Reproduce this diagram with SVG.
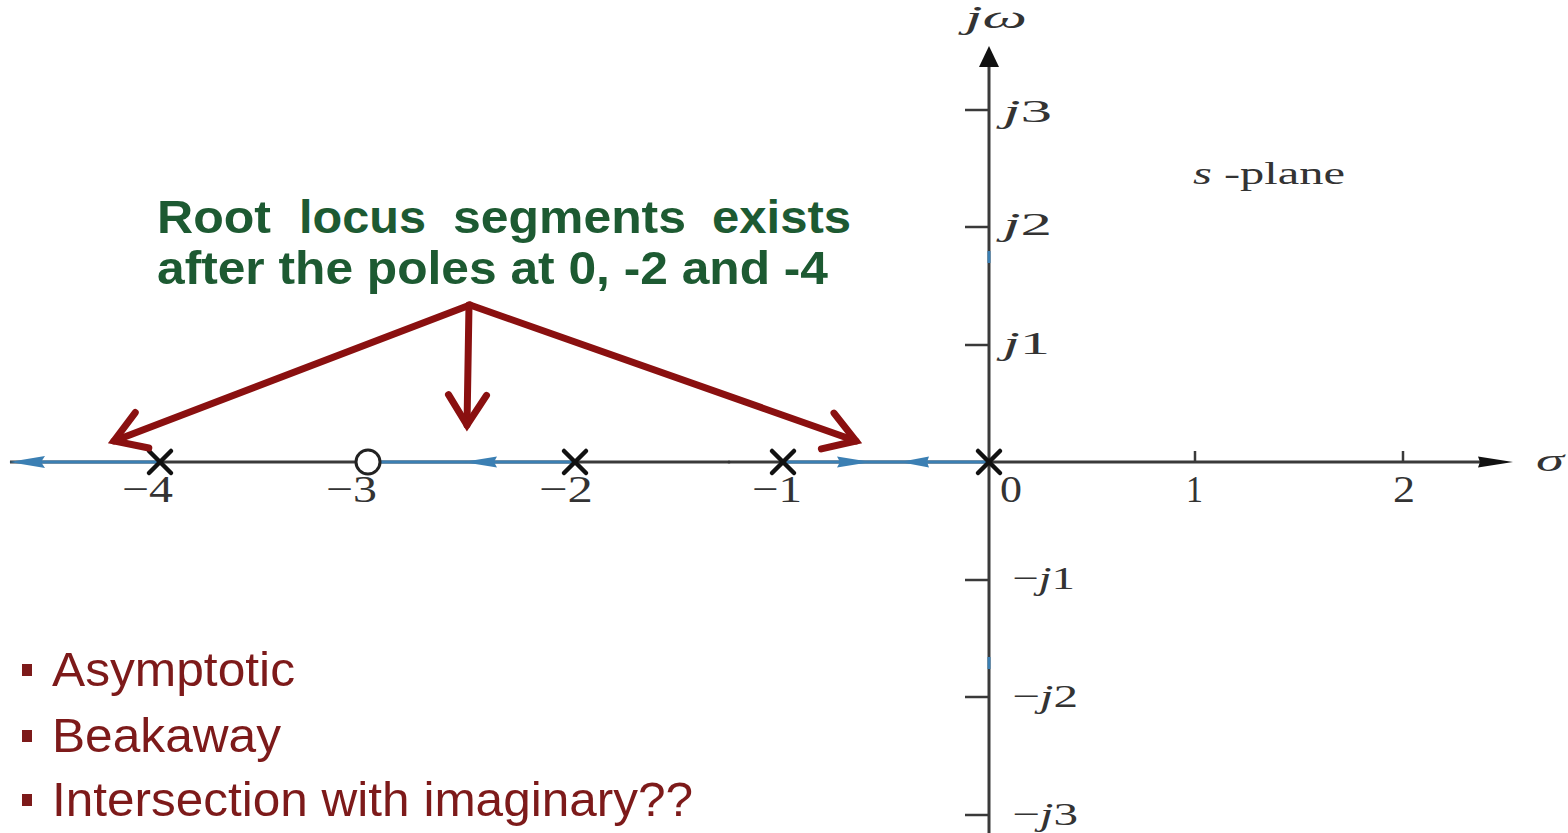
<svg xmlns="http://www.w3.org/2000/svg" width="1568" height="833" viewBox="0 0 1568 833">
<style>
.axis{stroke:#3a3a3a;stroke-width:3;fill:none}
.tick{stroke:#3a3a3a;stroke-width:2.5}
.blue{stroke:#3b7fb3;stroke-width:3;fill:none}
.bluefill{fill:#3b7fb3}
.pole{stroke:#111;stroke-width:4.5;stroke-linecap:round}
.num{font-family:"Liberation Serif",serif;font-size:38px;fill:#333}
.jl{font-family:"Liberation Serif",serif;font-size:32px;fill:#333}
.it{font-style:italic}
.green{font-family:"Liberation Sans",Arial,sans-serif;font-weight:bold;font-size:47px;fill:#1d5a32}
.bul{font-family:"Liberation Sans",Arial,sans-serif;font-size:48px;fill:#7d1a1a}
.red{stroke:#8a1010;stroke-width:7;fill:none;stroke-linecap:round}
</style>
<defs>
<marker id="chev" markerUnits="userSpaceOnUse" markerWidth="80" markerHeight="80" refX="0" refY="0" viewBox="-40 -40 80 80" orient="auto">
<path d="M -30,-19 L 0,0 L -30,19" fill="none" stroke="#8a1010" stroke-width="7" stroke-linecap="round" stroke-linejoin="miter"/>
</marker>
</defs>
<rect width="1568" height="833" fill="#ffffff"/>

<g id="axes">
<line class="axis" x1="10" y1="462" x2="1482" y2="462"/>
<polygon points="1513,462 1478,456.5 1480,462 1478,467.5" fill="#111"/>
<line class="axis" x1="989" y1="833" x2="989" y2="64"/>
<polygon points="989,46 979,67 999,67" fill="#111"/>
<line class="tick" x1="965" y1="110" x2="989" y2="110"/>
<line class="tick" x1="965" y1="227" x2="989" y2="227"/>
<line class="tick" x1="965" y1="345" x2="989" y2="345"/>
<line class="tick" x1="965" y1="580" x2="989" y2="580"/>
<line class="tick" x1="965" y1="697" x2="989" y2="697"/>
<line class="tick" x1="965" y1="815" x2="989" y2="815"/>
<line class="tick" x1="1195" y1="451" x2="1195" y2="462"/>
<line class="tick" x1="1403" y1="451" x2="1403" y2="462"/>
<text class="jl it" x="965" y="28" font-size="34" textLength="62" lengthAdjust="spacingAndGlyphs">jω</text>
<text class="jl" x="1536" y="471" font-size="40" font-style="italic" textLength="28" lengthAdjust="spacingAndGlyphs">σ</text>
<text class="jl" x="1003" y="122" font-size="34" textLength="49" lengthAdjust="spacingAndGlyphs"><tspan class="it">j</tspan>3</text>
<text class="jl" x="1003" y="235" font-size="34" textLength="49" lengthAdjust="spacingAndGlyphs"><tspan class="it">j</tspan>2</text>
<text class="jl" x="1003" y="354" font-size="34" textLength="47" lengthAdjust="spacingAndGlyphs"><tspan class="it">j</tspan>1</text>
<text class="jl" x="1012" y="589" textLength="63" lengthAdjust="spacingAndGlyphs">−<tspan class="it">j</tspan>1</text>
<text class="jl" x="1012" y="707" textLength="66" lengthAdjust="spacingAndGlyphs">−<tspan class="it">j</tspan>2</text>
<text class="jl" x="1012" y="825" textLength="66" lengthAdjust="spacingAndGlyphs">−<tspan class="it">j</tspan>3</text>
<text class="num" x="122" y="502" textLength="51" lengthAdjust="spacingAndGlyphs">−4</text>
<text class="num" x="326" y="502" textLength="51" lengthAdjust="spacingAndGlyphs">−3</text>
<text class="num" x="539" y="502" textLength="54" lengthAdjust="spacingAndGlyphs">−2</text>
<text class="num" x="752" y="502" textLength="50" lengthAdjust="spacingAndGlyphs">−1</text>
<text class="num" x="1000" y="502" textLength="22" lengthAdjust="spacingAndGlyphs">0</text>
<text class="num" x="1186" y="502" textLength="17" lengthAdjust="spacingAndGlyphs">1</text>
<text class="num" x="1393" y="502" textLength="22" lengthAdjust="spacingAndGlyphs">2</text>
<text class="jl" x="1193" y="184" font-size="30" textLength="152" lengthAdjust="spacingAndGlyphs"><tspan class="it">s</tspan> -plane</text>
</g>

<g id="locus">
<line class="blue" x1="40" y1="462" x2="160" y2="462"/>
<polygon class="bluefill" points="9,462 45,456 41,462 45,468"/>
<line class="blue" x1="380" y1="462" x2="575" y2="462"/>
<polygon class="bluefill" points="463,462 497,456.5 494,462 497,467.5"/>
<line class="blue" x1="783" y1="462" x2="989" y2="462"/>
<polygon class="bluefill" points="871,462 837,456.5 840,462 837,467.5"/>
<polygon class="bluefill" points="900,462 929,456.5 927,462 929,467.5"/>
<line class="blue" x1="989" y1="251" x2="989" y2="263"/>
<line class="blue" x1="989" y1="657" x2="989" y2="669"/>
<circle cx="729" cy="462" r="1.5" fill="#333"/>
</g>

<g id="pole-m4"><path class="pole" d="M149,451 L171,473 M171,451 L149,473"/></g>
<g id="zero-m3"><circle cx="368" cy="462" r="12" fill="#fff" stroke="#222" stroke-width="3"/></g>
<g id="pole-m2"><path class="pole" d="M564,451 L586,473 M586,451 L564,473"/></g>
<g id="pole-m1"><path class="pole" d="M772,451 L794,473 M794,451 L772,473"/></g>
<g id="pole-0"><path class="pole" d="M978,451 L1000,473 M1000,451 L978,473"/></g>

<g id="annotation">
<text class="green" x="157" y="233" textLength="114" lengthAdjust="spacingAndGlyphs">Root</text>
<text class="green" x="299" y="233" textLength="127" lengthAdjust="spacingAndGlyphs">locus</text>
<text class="green" x="453" y="233" textLength="233" lengthAdjust="spacingAndGlyphs">segments</text>
<text class="green" x="712" y="233" textLength="139" lengthAdjust="spacingAndGlyphs">exists</text>
<text class="green" x="157" y="284" textLength="671" lengthAdjust="spacingAndGlyphs">after the poles at 0, -2 and -4</text>
</g>

<g id="connectors">
<line class="red" x1="470" y1="305" x2="114" y2="441" marker-end="url(#chev)"/>
<line class="red" x1="469" y1="305" x2="467" y2="425" marker-end="url(#chev)"/>
<line class="red" x1="470" y1="305" x2="856" y2="441" marker-end="url(#chev)"/>
</g>

<g id="bullets">
<rect x="22" y="664" width="10" height="12" fill="#7d1a1a"/>
<text class="bul" x="52" y="686" textLength="243" lengthAdjust="spacingAndGlyphs">Asymptotic</text>
<rect x="22" y="730" width="10" height="12" fill="#7d1a1a"/>
<text class="bul" x="52" y="752" textLength="229" lengthAdjust="spacingAndGlyphs">Beakaway</text>
<rect x="22" y="794" width="10" height="12" fill="#7d1a1a"/>
<text class="bul" x="52" y="816" textLength="641" lengthAdjust="spacingAndGlyphs">Intersection with imaginary??</text>
</g>
</svg>
